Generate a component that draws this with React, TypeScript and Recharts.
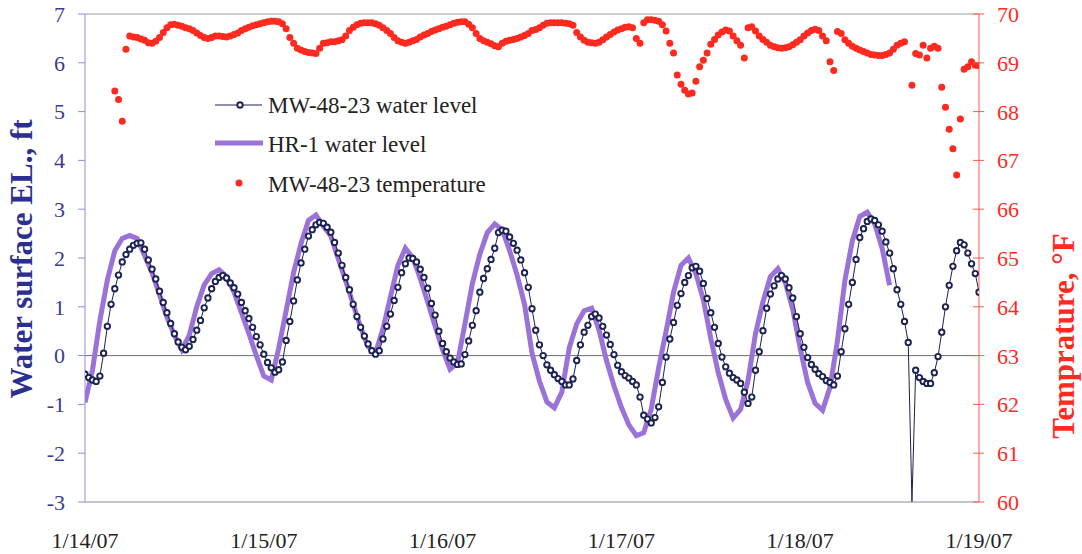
import React from 'react';
import { ComposedChart, Line, Scatter, XAxis, YAxis, ReferenceLine, Legend } from 'recharts';

// x positions are hours since 1/14/07 00:00
const dayLabels = ['1/14/07', '1/15/07', '1/16/07', '1/17/07', '1/18/07', '1/19/07'];
const dayTicks = [0, 24, 48, 72, 96, 120];
const levelTicks = [-3, -2, -1, 0, 1, 2, 3, 4, 5, 6, 7];
const tempTicks = [60, 61, 62, 63, 64, 65, 66, 67, 68, 69, 70];

// MW-48-23 water level, every 30 minutes (ft)
const mwLevel = [
  -0.38, -0.45, -0.5, -0.53, -0.42, 0.05, 0.6, 1.05, 1.37, 1.65, 1.92, 2.07, 2.18, 2.26, 2.3, 2.31,
  2.18, 1.96, 1.77, 1.57, 1.32, 1.09, 0.88, 0.66, 0.45, 0.28, 0.17, 0.12, 0.19, 0.33, 0.52, 0.72,
  0.98, 1.18, 1.37, 1.52, 1.6, 1.64, 1.59, 1.49, 1.39, 1.26, 1.09, 0.92, 0.76, 0.58, 0.39, 0.22,
  0.03, -0.14, -0.25, -0.34, -0.29, -0.13, 0.31, 0.7, 1.12, 1.55, 1.9, 2.18, 2.45, 2.58, 2.68, 2.73,
  2.71, 2.63, 2.53, 2.32, 2.1, 1.85, 1.6, 1.35, 1.05, 0.8, 0.58, 0.4, 0.24, 0.1, 0.03, 0.1,
  0.34, 0.6, 0.85, 1.13, 1.4, 1.7, 1.88, 2.0, 1.99, 1.92, 1.77, 1.6, 1.38, 1.07, 0.83, 0.5,
  0.25, 0.08, -0.05, -0.13, -0.18, -0.17, 0.02, 0.3, 0.62, 0.92, 1.3, 1.58, 1.78, 1.97, 2.2, 2.52,
  2.57, 2.55, 2.43, 2.3, 2.16, 1.96, 1.7, 1.4, 0.96, 0.52, 0.22, 0.0, -0.19, -0.3, -0.39, -0.47,
  -0.53, -0.6, -0.6, -0.48, -0.1, 0.22, 0.48, 0.62, 0.8, 0.85, 0.77, 0.6, 0.42, 0.23, 0.02, -0.2,
  -0.33, -0.41, -0.46, -0.53, -0.6, -0.85, -1.22, -1.3, -1.38, -1.27, -1.05, -0.55, -0.03, 0.34, 0.68, 1.03,
  1.27, 1.5, 1.64, 1.8, 1.83, 1.73, 1.48, 1.17, 0.88, 0.58, 0.25, -0.03, -0.23, -0.36, -0.45, -0.5,
  -0.57, -0.75, -0.98, -0.85, -0.3, 0.08, 0.51, 0.97, 1.26, 1.43, 1.57, 1.64, 1.57, 1.39, 1.18, 0.8,
  0.45, 0.17, -0.04, -0.18, -0.28, -0.37, -0.43, -0.51, -0.55, -0.6, -0.42, 0.08, 0.55, 1.05, 1.5, 1.97,
  2.42, 2.6, 2.75, 2.8, 2.77, 2.68, 2.55, 2.33, 2.1, 1.78, 1.35, 1.05, 0.7, 0.27, -3.0, -0.3,
  -0.45, -0.53, -0.57, -0.57, -0.35, -0.02, 0.48, 1.0, 1.44, 1.83, 2.15, 2.32, 2.27, 2.1, 1.88, 1.68,
  1.3,
];

// HR-1 water level, hourly (ft)
const hrLevel = [
  -0.96, -0.3, 0.72, 1.55, 2.15, 2.4, 2.46, 2.4, 2.05, 1.7, 1.25, 0.79, 0.42, 0.12, 0.42, 1.0,
  1.45, 1.68, 1.76, 1.62, 1.3, 0.88, 0.45, 0.0, -0.42, -0.5, 0.15, 0.92, 1.7, 2.3, 2.77, 2.88,
  2.65, 2.45, 1.98, 1.53, 1.05, 0.58, 0.18, 0.06, 0.55, 1.2, 1.85, 2.2, 2.0, 1.58, 1.1, 0.6,
  0.12, -0.28, -0.15, 0.65, 1.48, 2.08, 2.52, 2.7, 2.58, 2.15, 1.65, 1.05, 0.05, -0.52, -0.95, -1.07,
  -0.75, 0.16, 0.65, 0.92, 0.97, 0.52, -0.1, -0.62, -1.06, -1.42, -1.64, -1.58, -1.1, -0.25, 0.5, 1.3,
  1.85, 2.0, 1.68, 1.15, 0.35, -0.35, -0.9, -1.28, -1.1, -0.51, 0.45, 1.1, 1.62, 1.78, 1.5, 0.95,
  0.15, -0.55, -0.98, -1.12, -0.65, 0.3, 1.54, 2.35, 2.85, 2.94, 2.7, 2.2, 1.44,
];

// MW-48-23 temperature, every 30 minutes (°F); null = no reading
const mwTemp = [
  null, null, null, null, null, null, null, null,
  68.42, 68.25, 67.8, 69.28, 69.55, 69.53, 69.52, 69.49, 69.46, 69.41, 69.4, 69.44, 69.52, 69.62, 69.72, 69.78,
  69.79, 69.77, 69.75, 69.72, 69.7, 69.66, 69.61, 69.56, 69.52, 69.5, 69.52, 69.55, 69.55, 69.54, 69.53, 69.55,
  69.58, 69.61, 69.66, 69.7, 69.73, 69.76, 69.78, 69.8, 69.82, 69.84, 69.85, 69.85, 69.84, 69.8, 69.7, 69.52,
  69.4, 69.3, 69.26, 69.23, 69.21, 69.2, 69.19, 69.3, 69.4, 69.41, 69.43, 69.43, 69.45, 69.47, 69.55, 69.66,
  69.73, 69.78, 69.81, 69.82, 69.82, 69.82, 69.8, 69.77, 69.72, 69.66, 69.6, 69.52, 69.45, 69.42, 69.4, 69.42,
  69.45, 69.48, 69.53, 69.57, 69.6, 69.64, 69.67, 69.7, 69.73, 69.75, 69.78, 69.81, 69.83, 69.84, 69.84, 69.79,
  69.72, 69.6, 69.5, 69.45, 69.42, 69.39, 69.35, 69.33, 69.4, 69.44, 69.46, 69.48, 69.5, 69.53, 69.56, 69.6,
  69.66, 69.68, 69.72, 69.77, 69.81, 69.82, 69.82, 69.82, 69.82, 69.81, 69.8, 69.77, 69.62, 69.53, 69.46, 69.42,
  69.41, 69.4, 69.42, 69.47, 69.53, 69.58, 69.63, 69.67, 69.7, 69.73, 69.74, 69.72, 69.5, 69.4, 69.82, 69.88,
  69.88, 69.87, 69.85, 69.78, 69.65, 69.4, 69.2, 68.75, 68.56, 68.44, 68.36, 68.38, 68.62, 68.92, 69.05, 69.2,
  69.38, 69.48, 69.57, 69.63, 69.67, 69.65, 69.55, 69.45, 69.36, 69.1, 69.72, 69.74, 69.65, 69.55, 69.48, 69.42,
  69.36, 69.33, 69.31, 69.3, 69.31, 69.33, 69.37, 69.42, 69.47, 69.55, 69.61, 69.66, 69.69, 69.66, 69.55, 69.45,
  69.02, 68.84, 69.64, 69.6, 69.47, 69.4, 69.34, 69.3, 69.26, 69.23, 69.2, 69.17, 69.16, 69.15, 69.15, 69.17,
  69.2, 69.28, 69.36, 69.4, 69.43, null, 68.54, 69.19, 69.16, 69.36, 69.1, 69.3, 69.34, 69.3, 68.5, 68.09,
  67.64, 67.24, 66.7, 67.85, 68.87, 68.92, 69.02, 68.95, 68.94,
];

const mwRows = mwLevel.map((v, i) => ({ t: i * 0.5, mw: v }));
const hrRows = hrLevel.map((v, i) => ({ t: i, hr: v }));
const tempRows = mwTemp
  .map((v, i) => ({ t: i * 0.5, temp: v }))
  .filter((r) => r.temp !== null);

const FONT = '"Liberation Serif", "Times New Roman", serif';
const NAVY = '#1b2252';
const PURPLE = '#9b72d8';
const RED = '#ff2a1f';
const AXIS_BLUE = '#3a3b94';

const MwDot = (p: any) => {
  const { cx, cy, payload, index } = p;
  if (payload == null || payload.mw <= -2.95) return <g key={`mwd${index}`} />;
  return (
    <circle key={`mwd${index}`} cx={cx} cy={cy} r={2.7} fill="#ffffff" stroke={NAVY} strokeWidth={1.9} />
  );
};

const RIGHT_OFF = 18;
const RightTick = (p: any) => {
  const { x, y, payload } = p;
  const ax = x - RIGHT_OFF;
  return (
    <g>
      <line x1={ax - 6} x2={ax + 5} y1={y} y2={y} stroke="#ff5a4a" strokeWidth={1} />
      <text x={x} y={y} dy="0.36em" textAnchor="start" fill={RED} fontSize={22} fontFamily={FONT}>
        {payload.value}
      </text>
    </g>
  );
};

const LegendBox = () => (
  <svg width={320} height={120} style={{ overflow: 'visible' }}>
    <line x1={10} x2={57} y1={20} y2={20} stroke={NAVY} strokeWidth={1} />
    <circle cx={35} cy={20} r={2.7} fill="#fff" stroke={NAVY} strokeWidth={1.9} />
    <text x={63} y={28} fontSize={23} fontFamily={FONT} fill="#222">MW-48-23 water level</text>
    <line x1={10} x2={58} y1={58} y2={58} stroke={PURPLE} strokeWidth={5} />
    <text x={63} y={67} fontSize={23} fontFamily={FONT} fill="#222">HR-1 water level</text>
    <circle cx={34} cy={98} r={3.5} fill={RED} />
    <text x={63} y={107} fontSize={23} fontFamily={FONT} fill="#222">MW-48-23 temperature</text>
  </svg>
);

const LeftTitle = () => (
  <text
    x={32}
    y={259}
    transform="rotate(-90, 32, 259)"
    textAnchor="middle"
    fontSize={31}
    fontWeight="bold"
    fontFamily={FONT}
    fill="#2b2f8f"
  >
    Water surface EL., ft
  </text>
);

const RightTitle = () => (
  <text
    x={1074}
    y={336}
    transform="rotate(-90, 1074, 336)"
    textAnchor="middle"
    fontSize={31}
    fontWeight="bold"
    fontFamily={FONT}
    fill={RED}
  >
    Temprature, °F
  </text>
);

export default function App() {
  return (
    <div style={{ position: 'absolute', left: 0, top: 0, width: 1082, height: 554, background: '#fff' }}>
      <ComposedChart width={1082} height={554} margin={{ top: 14, right: 0, bottom: 0, left: 0 }}>
        <XAxis
          type="number"
          dataKey="t"
          domain={[0, 120]}
          ticks={dayTicks}
          tickFormatter={(v: number) => dayLabels[dayTicks.indexOf(v)]}
          allowDataOverflow
          height={52}
          tickLine={false}
          tickMargin={24}
          axisLine={{ stroke: '#8a8a9a' }}
          tick={{ fill: '#222', fontSize: 22, fontFamily: FONT }}
        />
        <YAxis
          yAxisId="left"
          orientation="left"
          domain={[-3, 7]}
          ticks={levelTicks}
          allowDataOverflow
          width={85}
          tickSize={7}
          tickMargin={13}
          axisLine={{ stroke: '#8c8ce0' }}
          tickLine={{ stroke: '#8c8ce0' }}
          tick={{ fill: AXIS_BLUE, fontSize: 22, fontFamily: FONT }}
          label={<LeftTitle />}
        />
        <YAxis
          yAxisId="right"
          orientation="right"
          domain={[60, 70]}
          ticks={tempTicks}
          allowDataOverflow
          width={103}
          tickSize={0}
          tickMargin={RIGHT_OFF}
          tickLine={false}
          axisLine={{ stroke: '#ff5a4a' }}
          tick={<RightTick />}
          label={<RightTitle />}
        />
        <ReferenceLine yAxisId="left" y={7} stroke="#9a9a9a" strokeWidth={1} />
        <ReferenceLine yAxisId="left" y={0} stroke="#6f6f6f" strokeWidth={1} />
        <Line
          data={hrRows}
          yAxisId="left"
          dataKey="hr"
          type="linear"
          stroke={PURPLE}
          strokeWidth={5}
          dot={false}
          isAnimationActive={false}
          name="HR-1 water level"
        />
        <Line
          data={mwRows}
          yAxisId="left"
          dataKey="mw"
          type="linear"
          stroke={NAVY}
          strokeWidth={1}
          dot={MwDot}
          activeDot={false}
          isAnimationActive={false}
          name="MW-48-23 water level"
        />
        <Scatter
          data={tempRows}
          yAxisId="right"
          dataKey="temp"
          fill={RED}
          shape={(p: any) => <circle cx={p.cx} cy={p.cy} r={3.5} fill={RED} />}
          isAnimationActive={false}
          name="MW-48-23 temperature"
        />
        <Legend
          layout="horizontal"
          verticalAlign="middle"
          align="center"
          content={<LegendBox />}
          wrapperStyle={{ left: 205, top: 85, width: 320, height: 120 }}
        />
      </ComposedChart>
    </div>
  );
}
